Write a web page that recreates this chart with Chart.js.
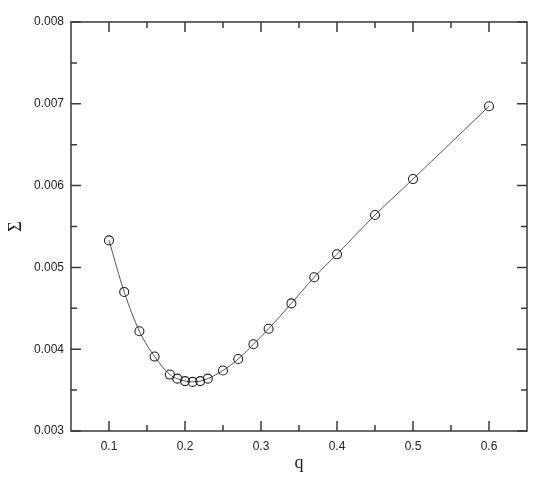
<!DOCTYPE html>
<html>
<head>
<meta charset="utf-8">
<script src="https://cdn.jsdelivr.net/npm/chart.js@4"></script>
<style>
  html, body { margin: 0; padding: 0; background: #fff; }
  #wrap { width: 551px; height: 485px; }
</style>
</head>
<body>
<div id="wrap"><canvas id="c" width="551" height="485"></canvas></div>
<script>
const qValues = [0.10, 0.12, 0.14, 0.16, 0.18, 0.19, 0.20, 0.21, 0.22, 0.23, 0.25, 0.27, 0.29, 0.31, 0.34, 0.37, 0.40, 0.45, 0.50, 0.60];
const sigmaValues = [0.00533, 0.00470, 0.00422, 0.00391, 0.00369, 0.00364, 0.00361, 0.00360, 0.00361, 0.00364, 0.00374, 0.00388, 0.00406, 0.00425, 0.00456, 0.00488, 0.00516, 0.00564, 0.00608, 0.00697];
const xMajorTicks = [0.1, 0.2, 0.3, 0.4, 0.5, 0.6];
const xMinorTicks = [0.15, 0.25, 0.35, 0.45, 0.55];
const yMajorTicks = [0.003, 0.004, 0.005, 0.006, 0.007, 0.008];
const yMinorTicks = [0.0035, 0.0045, 0.0055, 0.0065, 0.0075];

const points = qValues.map((q, i) => ({ x: q, y: sigmaValues[i] }));

const frameTicks = {
  id: 'frameTicks',
  afterDraw(chart) {
    const { ctx, chartArea: a, scales: { x, y } } = chart;
    ctx.save();
    ctx.strokeStyle = '#3a3a3a';
    ctx.lineWidth = 1.5;
    ctx.strokeRect(a.left, a.top, a.right - a.left, a.bottom - a.top);
    ctx.beginPath();
    const tickX = (v, len) => {
      const px = x.getPixelForValue(v);
      ctx.moveTo(px, a.bottom); ctx.lineTo(px, a.bottom - len);
      ctx.moveTo(px, a.top); ctx.lineTo(px, a.top + len);
    };
    const tickY = (v, len) => {
      const py = y.getPixelForValue(v);
      ctx.moveTo(a.left, py); ctx.lineTo(a.left + len, py);
      ctx.moveTo(a.right, py); ctx.lineTo(a.right - len, py);
    };
    xMajorTicks.forEach(v => tickX(v, 10));
    xMinorTicks.forEach(v => tickX(v, 6));
    yMajorTicks.forEach(v => tickY(v, 10));
    yMinorTicks.forEach(v => tickY(v, 6));
    ctx.stroke();
    ctx.restore();
  }
};

new Chart(document.getElementById('c'), {
  type: 'scatter',
  data: {
    datasets: [{
      data: points,
      showLine: true,
      borderColor: '#555',
      borderWidth: 1,
      cubicInterpolationMode: 'monotone',
      pointRadius: 4.5,
      pointHoverRadius: 4.5,
      pointBorderColor: '#222',
      pointBorderWidth: 1.1,
      pointBackgroundColor: 'rgba(0,0,0,0)'
    }]
  },
  options: {
    responsive: false,
    animation: false,
    events: [],
    layout: { padding: { left: 0, top: 22, right: 24, bottom: 0 } },
    plugins: { legend: { display: false }, tooltip: { enabled: false } },
    scales: {
      x: {
        type: 'linear',
        min: 0.05, max: 0.65,
        afterBuildTicks: s => { s.ticks = xMajorTicks.map(v => ({ value: v })); },
        afterFit: s => { s.height = 54; },
        grid: { display: false, drawTicks: false },
        border: { display: false },
        ticks: {
          padding: 8,
          color: '#222',
          font: { family: 'Liberation Sans, Arial, sans-serif', size: 12 },
          callback: v => v.toFixed(1)
        },
        title: {
          display: true, text: 'q', color: '#222',
          font: { family: 'Liberation Serif, DejaVu Serif, serif', size: 18 },
          padding: { top: 0, bottom: 11 }
        }
      },
      y: {
        type: 'linear',
        min: 0.003, max: 0.008,
        afterBuildTicks: s => { s.ticks = yMajorTicks.map(v => ({ value: v })); },
        afterFit: s => { s.width = 71; },
        grid: { display: false, drawTicks: false },
        border: { display: false },
        ticks: {
          padding: 7,
          color: '#222',
          font: { family: 'Liberation Sans, Arial, sans-serif', size: 12 },
          callback: v => v.toFixed(3)
        },
        title: {
          display: true, text: 'Σ', color: '#222',
          font: { family: 'Liberation Serif, DejaVu Serif, serif', size: 18 },
          padding: { top: 5, bottom: 0 }
        }
      }
    }
  },
  plugins: [frameTicks]
});
</script>
</body>
</html>
